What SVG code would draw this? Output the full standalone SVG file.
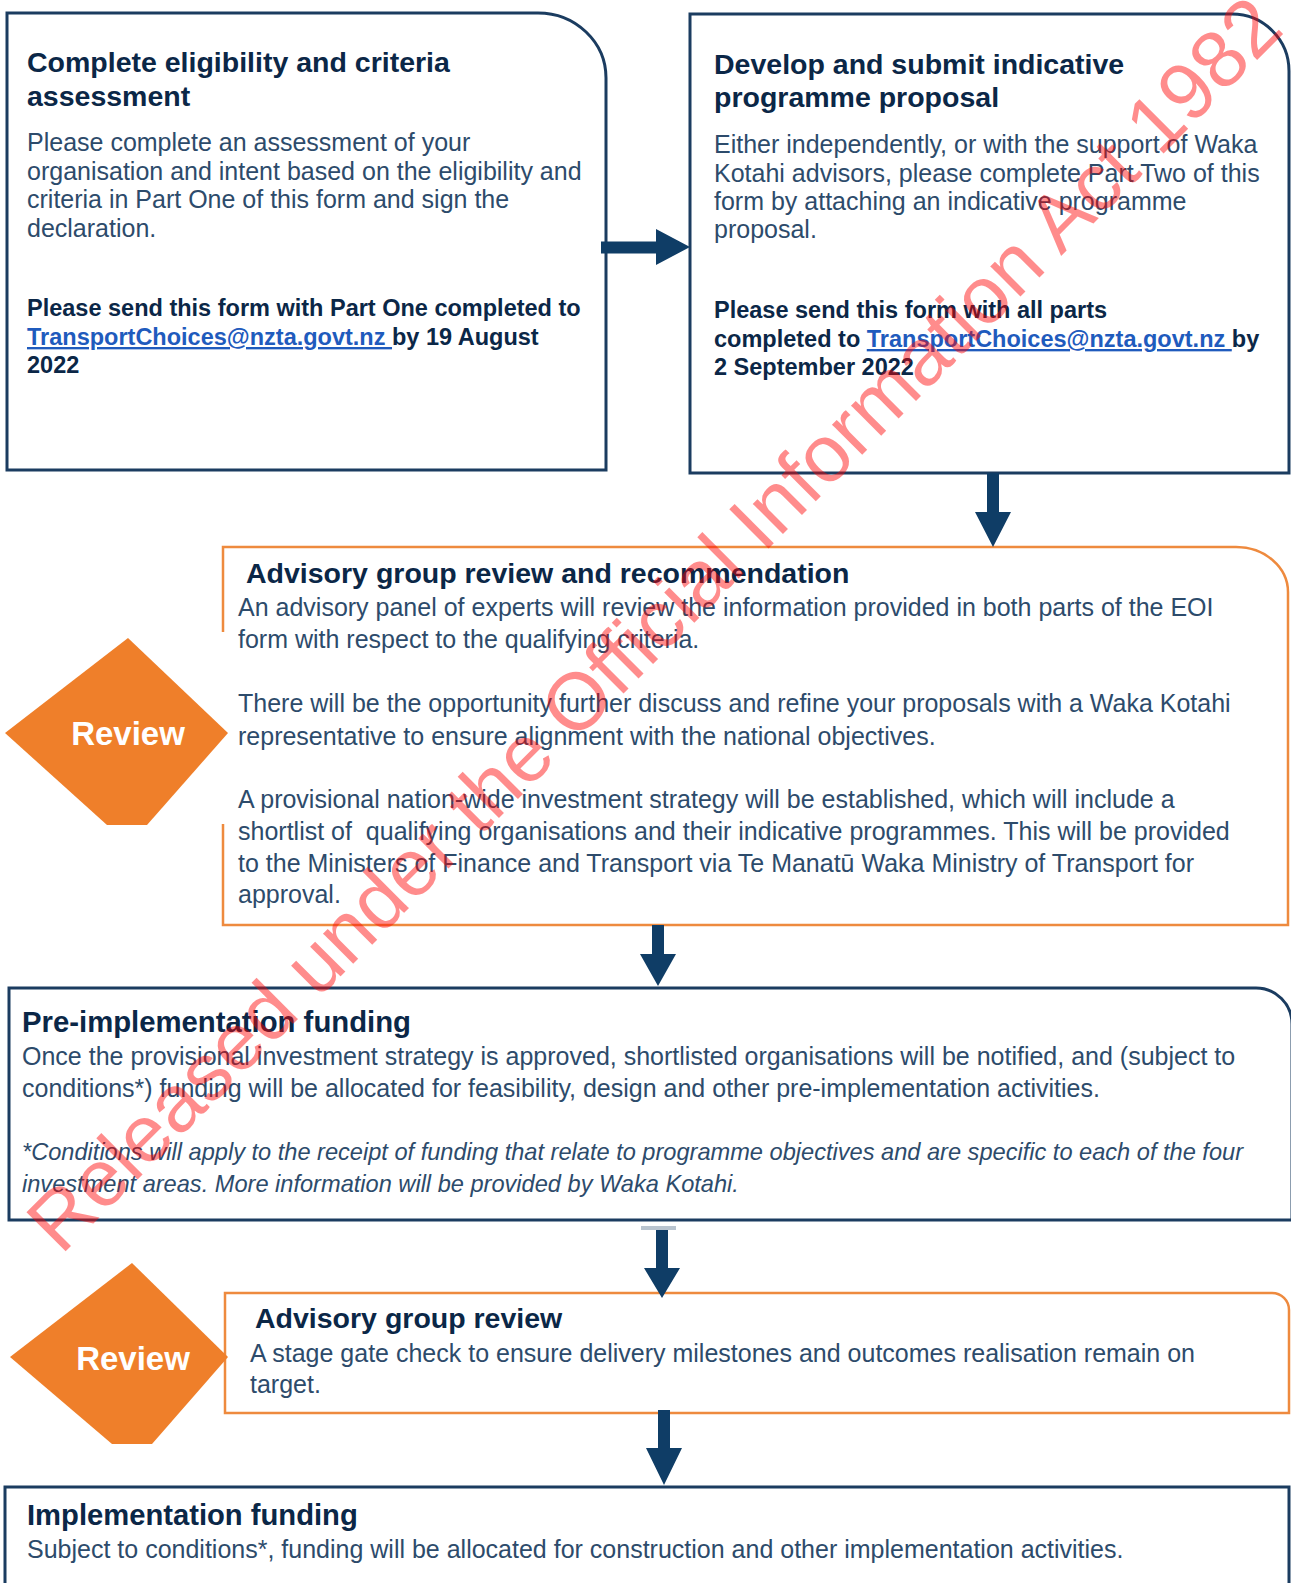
<svg xmlns="http://www.w3.org/2000/svg" width="1291" height="1583" viewBox="0 0 1291 1583">
<style>
text{font-family:"Liberation Sans",Arial,sans-serif}
.title{font-weight:bold;font-size:28.5px;fill:#0b2747}
.body{font-size:25px;fill:#2d4b6b}
.bb{font-weight:bold;font-size:23.5px;fill:#0b2747}
.link{fill:#1f5bbd;text-decoration:underline}
.it{font-style:italic;font-size:23.6px}
.navy{fill:#fff;stroke:#1b3c60;stroke-width:3}
.orange{fill:#fff;stroke:#ee8a3e;stroke-width:2.5}
.arrow{fill:#0f3d66}
.diamond{fill:#ef7f2a}
.review{font-size:33px;font-weight:bold;fill:#fff;text-anchor:middle}
.wm{font-size:80.6px;fill:#ff0000;fill-opacity:0.45}
</style>
<rect width="1291" height="1583" fill="#fff"/>

<g id="node-eligibility">
<path class="navy" d="M7,13 H538 A68,65 0 0 1 606,78 V470 H7 Z"/>
<text class="title" x="27" y="72">Complete eligibility and criteria</text>
<text class="title" x="27" y="106">assessment</text>
<text class="body" x="27" y="151">Please complete an assessment of your</text>
<text class="body" x="27" y="180">organisation and intent based on the eligibility and</text>
<text class="body" x="27" y="208">criteria in Part One of this form and sign the</text>
<text class="body" x="27" y="237">declaration.</text>
<text class="bb" x="27" y="316">Please send this form with Part One completed to</text>
<text class="bb" x="27" y="345"><tspan class="link">TransportChoices@nzta.govt.nz </tspan>by 19 August</text>
<text class="bb" x="27" y="373">2022</text>
</g>

<g id="node-proposal">
<path class="navy" d="M690,14 H1232 A57,57 0 0 1 1289,71 V473 H690 Z"/>
<text class="title" x="714" y="74">Develop and submit indicative</text>
<text class="title" x="714" y="107">programme proposal</text>
<text class="body" x="714" y="153">Either independently, or with the support of Waka</text>
<text class="body" x="714" y="182">Kotahi advisors, please complete Part Two of this</text>
<text class="body" x="714" y="210">form by attaching an indicative programme</text>
<text class="body" x="714" y="238">proposal.</text>
<text class="bb" x="714" y="318">Please send this form with all parts</text>
<text class="bb" x="714" y="347">completed to <tspan class="link">TransportChoices@nzta.govt.nz </tspan>by</text>
<text class="bb" x="714" y="375">2 September 2022</text>
</g>

<g id="node-advisory-recommendation">
<path class="orange" d="M223,547 H1236 A52,45 0 0 1 1288,592 V925 H223 Z"/>
<text class="title" x="246" y="583">Advisory group review and recommendation</text>
<text class="body" x="238" y="616">An advisory panel of experts will review the information provided in both parts of the EOI</text>
<text class="body" x="238" y="648">form with respect to the qualifying criteria.</text>
<text class="body" x="238" y="712">There will be the opportunity further discuss and refine your proposals with a Waka Kotahi</text>
<text class="body" x="238" y="745">representative to ensure alignment with the national objectives.</text>
<text class="body" x="238" y="808">A provisional nation-wide investment strategy will be established, which will include a</text>
<text class="body" x="238" y="840" xml:space="preserve">shortlist of  qualifying organisations and their indicative programmes. This will be provided</text>
<text class="body" x="238" y="872">to the Ministers of Finance and Transport via Te Manatū Waka Ministry of Transport for</text>
<text class="body" x="238" y="903">approval.</text>
</g>

<g id="node-review-1">
<rect x="0" y="632" width="229" height="192" fill="#fff"/>
<polygon class="diamond" points="128,638 228,733 147,825 107,825 5,733"/>
<text class="review" x="128" y="745">Review</text>
</g>

<g id="node-pre-implementation">
<path class="navy" d="M9,988 H1256 A36,36 0 0 1 1292,1024 V1220 H9 Z"/>
<text class="title" x="22" y="1032" style="font-size:29.3px">Pre-implementation funding</text>
<text class="body" x="22" y="1065">Once the provisional investment strategy is approved, shortlisted organisations will be notified, and (subject to</text>
<text class="body" x="22" y="1097">conditions*) funding will be allocated for feasibility, design and other pre-implementation activities.</text>
<text class="body it" x="22" y="1160">*Conditions will apply to the receipt of funding that relate to programme objectives and are specific to each of the four</text>
<text class="body it" x="22" y="1192">investment areas. More information will be provided by Waka Kotahi.</text>
</g>

<g id="node-advisory-review">
<path class="orange" d="M225,1293 H1272 A17,17 0 0 1 1289,1310 V1413 H225 Z"/>
<text class="title" x="255" y="1328">Advisory group review</text>
<text class="body" x="250" y="1362">A stage gate check to ensure delivery milestones and outcomes realisation remain on</text>
<text class="body" x="250" y="1393">target.</text>
</g>

<g id="node-review-2">
<polygon class="diamond" points="132,1263 228,1357 152,1444 112,1444 10,1357"/>
<text class="review" x="133" y="1370">Review</text>
</g>

<g id="node-implementation">
<path class="navy" d="M5,1592 V1487 H1289 V1592"/>
<text class="title" x="27" y="1525" style="font-size:29.2px">Implementation funding</text>
<text class="body" x="27" y="1558">Subject to conditions*, funding will be allocated for construction and other implementation activities.</text>
</g>

<g id="connectors">
<polygon class="arrow" points="601,241.5 656,241.5 656,229 690,247 656,265 656,253.5 601,253.5"/>
<polygon class="arrow" points="987,473 999,473 999,512 1011,512 993,547 975,512 987,512"/>
<polygon class="arrow" points="652,925 664,925 664,954 676,954 658,986 640,954 652,954"/>
<rect x="641" y="1226" width="35" height="4" fill="#b9c4cf"/>
<polygon class="arrow" points="656,1230 668,1230 668,1268 680,1268 662,1298 644,1268 656,1268"/>
<polygon class="arrow" points="658,1410 670,1410 670,1448 682,1448 664,1485 646,1448 658,1448"/>
</g>

<text class="wm" x="61" y="1256" transform="rotate(-45 61 1256)">Released under the Official Information Act 1982</text>
</svg>
